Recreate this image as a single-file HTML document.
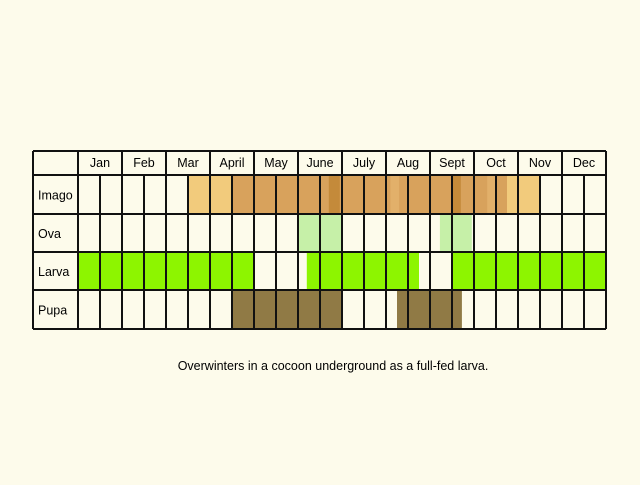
<!DOCTYPE html>
<html><head><meta charset="utf-8"><style>
body{margin:0;background:#fdfbeb;width:640px;height:480px;overflow:hidden;font-family:"Liberation Sans",sans-serif}
</style></head><body>
<svg id="c" width="640" height="480" xmlns="http://www.w3.org/2000/svg">
<rect width="640" height="480" fill="#fdfbeb"/>
<text x="333" y="370" text-anchor="middle" font-size="12.5" font-family="Liberation Sans, sans-serif">Overwinters in a cocoon underground as a full-fed larva.</text>
</svg>
<script>
const months=["Jan","Feb","Mar","April","May","June","July","Aug","Sept","Oct","Nov","Dec"];
const stages=["Imago","Ova","Larva","Pupa"];
// bars: [stageIndex, startHalfMonth, endHalfMonth, color]
const imagoBars=[[0,5,7,"#f2cb7c"],[0,7,19.5,"#d8a25c"],[0,19.5,21,"#f2cb7c"],[0,11.4,11.9,"#c48a3a"],[0,14.2,14.6,"#e2b06a"],[0,17,17.4,"#c48a3a"],[0,18.6,19,"#e2b06a"]];
const ovaBars=[[1,10,12,"#c6f0a8"],[1,16.45,17.9,"#c6f0a8"]];
const larvaBars=[[2,0,8,"#8df500"],[2,10.4,15.5,"#8df500"],[2,17,24,"#8df500"]];
const pupaBars=[[3,7,12,"#907a45"],[3,14.5,17.45,"#907a45"]];
const svg=document.getElementById('c');
const NS="http://www.w3.org/2000/svg";
const x0=78,hw=22,left=33,right=606;
const rowY=[151,175,214,252,290,329];
const xs=h=>x0+h*hw;
function mk(t,a){const e=document.createElementNS(NS,t);for(const k in a)e.setAttribute(k,a[k]);svg.appendChild(e);return e;}
[...imagoBars,...ovaBars,...larvaBars,...pupaBars].forEach(b=>{
  const r=mk('rect',{x:xs(b[1]),y:rowY[b[0]+1],width:xs(b[2])-xs(b[1]),height:rowY[b[0]+2]-rowY[b[0]+1],fill:b[3]});
  
  
});
// horizontal lines
rowY.forEach(y=>{const l=mk('line',{x1:left,x2:right,y1:y,y2:y,stroke:'#111','stroke-width':2});
  
  });
// verticals
mk('line',{x1:left,x2:left,y1:151,y2:329,stroke:'#111','stroke-width':2});
for(let i=0;i<=24;i++){const x=xs(i);
  const l=mk('line',{x1:x,x2:x,y1:i%2==0?151:175,y2:329,stroke:'#111','stroke-width':2});
  
  }
months.forEach((m,i)=>{const t=mk('text',{x:xs(2*i+1),y:167,'text-anchor':'middle','font-size':12.5});t.textContent=m;
  
  });
stages.forEach((s,i)=>{const t=mk('text',{x:38,y:(rowY[i+1]+rowY[i+2])/2+5,'font-size':12.5});t.textContent=s;
  
  });
</script>
</body></html>
